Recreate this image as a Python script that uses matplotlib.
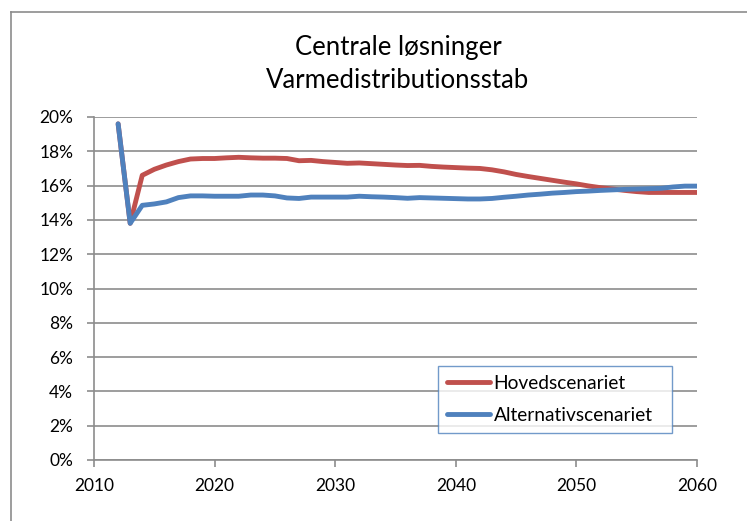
import matplotlib
matplotlib.use("Agg")
import matplotlib.pyplot as plt
from matplotlib.ticker import FuncFormatter, MultipleLocator

years = list(range(2012, 2061))
hovedscenariet = [
    19.6, 13.8, 16.6, 16.95, 17.2, 17.4, 17.55, 17.58, 17.58, 17.62,
    17.65, 17.62, 17.6, 17.6, 17.58, 17.45, 17.47, 17.4, 17.35, 17.3,
    17.32, 17.28, 17.24, 17.2, 17.17, 17.18, 17.12, 17.08, 17.05, 17.02,
    17.0, 16.92, 16.8, 16.65, 16.53, 16.42, 16.31, 16.2, 16.1, 15.98,
    15.88, 15.8, 15.72, 15.65, 15.6, 15.6, 15.6, 15.6, 15.6,
]
alternativscenariet = [
    19.6, 13.8, 14.85, 14.93, 15.05, 15.3, 15.4, 15.4, 15.38, 15.38,
    15.38, 15.45, 15.45, 15.4, 15.28, 15.25, 15.33, 15.33, 15.33, 15.33,
    15.38, 15.35, 15.33, 15.3, 15.26, 15.3, 15.28, 15.26, 15.24, 15.22,
    15.22, 15.25, 15.32, 15.38, 15.45, 15.5, 15.56, 15.6, 15.65, 15.68,
    15.72, 15.75, 15.78, 15.8, 15.82, 15.84, 15.92, 15.97, 15.97,
]
series_names = ["Hovedscenariet", "Alternativscenariet"]
title_lines = ["Centrale løsninger", "Varmedistributionsstab"]

plt.rcParams['font.family'] = ['Lato', 'DejaVu Sans']

W, H = 747, 521
fig = plt.figure(figsize=(W / 100, H / 100), dpi=100)
fig.patch.set_facecolor("white")

# chart border (left and top only visible)
fig.add_artist(plt.Line2D([10.5 / W, 10.5 / W], [0, 1 - 11.5 / H], color="#8c8c8c", lw=1.2))
fig.add_artist(plt.Line2D([10.5 / W, 1], [1 - 11.5 / H, 1 - 11.5 / H], color="#8c8c8c", lw=1.2))

x0, x1, y0, y1 = 94, 697, 117, 460
ax = fig.add_axes([x0 / W, 1 - y1 / H, (x1 - x0) / W, (y1 - y0) / H])
red = "#C0504D"
blue = "#4F81BD"
ax.plot(years, hovedscenariet, color=red, lw=3.5, solid_capstyle="round", solid_joinstyle="round",
        label=series_names[0], zorder=3)
ax.plot(years, alternativscenariet, color=blue, lw=3.5, solid_capstyle="round", solid_joinstyle="round",
        label=series_names[1], zorder=4)

ax.set_xlim(2010, 2060)
ax.set_ylim(0, 20)
ax.yaxis.set_major_locator(MultipleLocator(2))
ax.xaxis.set_major_locator(MultipleLocator(10))
ax.yaxis.set_major_formatter(FuncFormatter(lambda v, p: f"{v:.0f}%"))
ax.grid(axis="y", color="#8c8c8c", lw=1.2)
ax.set_axisbelow(True)
for s in ["top", "right"]:
    ax.spines[s].set_visible(False)
for s in ["left", "bottom"]:
    ax.spines[s].set_color("#8c8c8c")
    ax.spines[s].set_linewidth(1.2)
ax.tick_params(axis="both", colors="#8c8c8c", labelcolor="black", labelsize=12.5, length=5, width=1.2)
ax.tick_params(axis="y", pad=10)
ax.tick_params(axis="x", pad=8)

fig.text(398 / W, 1 - 48 / H, title_lines[0], ha="center", va="center", fontsize=18.5)
fig.text(398 / W, 1 - 80 / H, title_lines[1], ha="center", va="center", fontsize=18.5)

lx0, lx1, ly0, ly1 = 438, 672, 366, 432
leg = ax.legend(loc="upper left",
                bbox_to_anchor=((lx0 - x0) / (x1 - x0), (y1 - ly0) / (y1 - y0),
                                (lx1 - lx0) / (x1 - x0), 0.0),
                mode="expand", frameon=True, fancybox=False, fontsize=13.8, handlelength=2.25,
                handletextpad=0.2, borderaxespad=0, labelspacing=0.8, borderpad=0.45)
leg.get_frame().set_edgecolor(blue)
leg.get_frame().set_linewidth(1.0)

fig.savefig("out.png", dpi=100)
